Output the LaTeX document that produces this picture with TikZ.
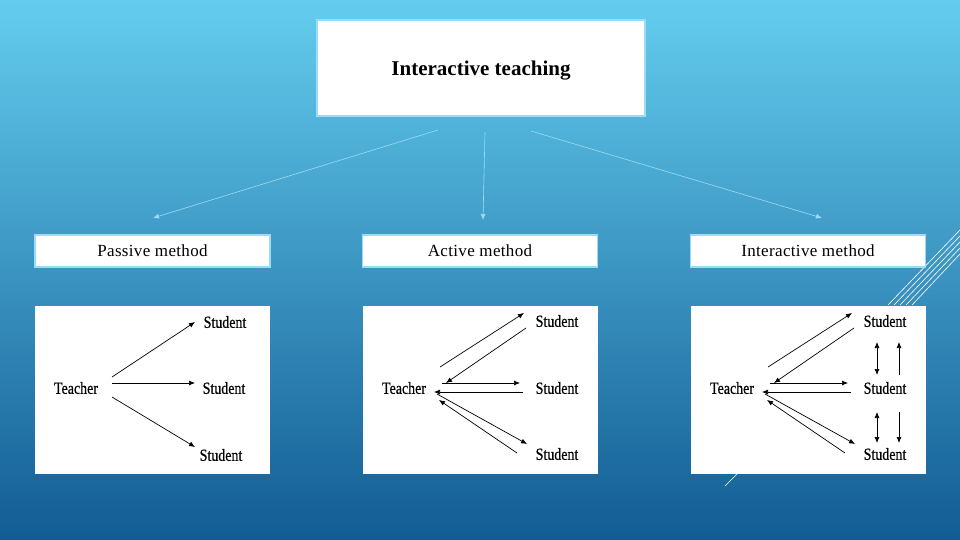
\documentclass[tikz,border=0pt]{standalone}
\usepackage{fontspec}
\setmainfont{Liberation Serif}
\usetikzlibrary{arrows.meta}
\begin{document}
\begin{tikzpicture}[x=1pt,y=-1pt,
  lbl/.style={draw=cyan!40,line width=1.5pt,fill=white,minimum width=235pt,minimum height=32pt,font=\fontsize{17}{19}\selectfont\addfontfeatures{LetterSpace=2},inner sep=0pt},
  pan/.style={fill=white,minimum width=235pt,minimum height=168pt,inner sep=0pt},
  st/.style={font=\fontsize{17}{19}\selectfont\addfontfeatures{FakeStretch=0.82,FakeBold=0.6},inner sep=0pt},
  ar/.style={-{Latex[length=6pt,width=5pt]},line width=0.7pt},
  dar/.style={{Latex[length=6pt,width=5pt]}-{Latex[length=6pt,width=5pt]},line width=0.7pt},
  top/.style={-{Latex[length=6pt,width=5pt]},draw=cyan!40,line width=0.6pt},
  deco/.style={white,line width=0.6pt}]
\useasboundingbox (0,0) rectangle (960,540);
\shade[shading angle=30,top color={rgb,255:red,100;green,205;blue,238},bottom color={rgb,255:red,18;green,92;blue,148}] (0,0) rectangle (960,540);
% decorative lines
\foreach \d in {0,6,12,18,24}{\draw[deco] (888+\d,305) -- (960,230+\d);}
\draw[deco] (725,486) -- (748,463);
% title
\node[draw=cyan!40,line width=1.5pt,fill=white,minimum width=328pt,minimum height=96pt] (t) at (481,68) {};
\node[font=\bfseries\fontsize{21}{24}\selectfont,inner sep=0pt] (tt) at (481,71) {Interactive teaching};
\coordinate (a1) at (438,130); \coordinate (b1) at (153,218);
\coordinate (a2) at (485,132); \coordinate (b2) at (483,220);
\coordinate (a3) at (531,131); \coordinate (b3) at (822,218);
\draw[top] (a1) -- (b1); \draw[top] (a2) -- (b2); \draw[top] (a3) -- (b3);
\node[lbl] (l1) at (152.5,251) {Passive method};
\node[lbl] (l2) at (480,251) {Active method};
\node[lbl] (l3) at (808,251) {Interactive method};
\node[pan] (p1) at (152.5,390) {};
\node[pan] (p2) at (480,390) {};
\node[pan] (p3) at (808,390) {};
% passive
\node[st] (T1) at (76,388) {Teacher};
\node[st] (S11) at (225,322) {Student};
\node[st] (S12) at (224,388) {Student};
\node[st] (S13) at (221,455) {Student};
\draw[ar] (112,377) -- (195,322);
\draw[ar] (112,383) -- (195,383);
\draw[ar] (112,397) -- (195,447);
% active and interactive
\foreach \o/\n in {0/2,328/3}{
\begin{scope}[xshift=\o]
\node[st] (T\n) at (404,388) {Teacher};
\node[st] (S\n1) at (557,321) {Student};
\node[st] (S\n2) at (557,388) {Student};
\node[st] (S\n3) at (557,454) {Student};
\draw[ar] (440,367) -- (524,313);
\draw[ar] (526,328) -- (446,383);
\draw[ar] (442,383) -- (520,383);
\draw[ar] (523,392) -- (434,392);
\draw[ar] (437,394) -- (527,444);
\draw[ar] (517,453) -- (439,400);
\end{scope}}
\draw[dar] (877,342) -- (877,375);
\draw[dar] (877,412) -- (877,443);
\draw[ar] (899,375) -- (899,342);
\draw[ar] (899,412) -- (899,443);
\end{tikzpicture}
\end{document}
